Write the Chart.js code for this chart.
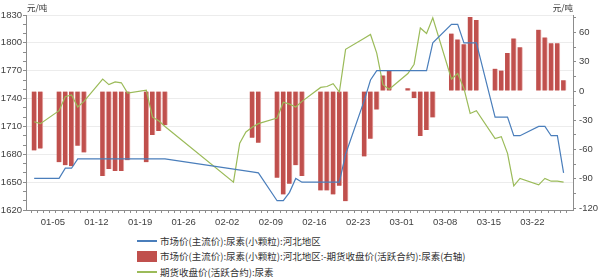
<!DOCTYPE html>
<html>
<head>
<meta charset="utf-8">
<script src="https://cdn.jsdelivr.net/npm/chart.js@4.4.1/dist/chart.umd.min.js"></script>
<style>
  body { margin: 0; background: #fff; }
  #wrap { position: relative; width: 600px; height: 278px; font-family: "Noto Sans CJK SC", "Liberation Sans", sans-serif; color: #333; }
  #chart { position: absolute; left: 0; top: 0; }
  .unit { position: absolute; top: 1px; font-size: 8.5px; line-height: 12px; }
  #legend { position: absolute; left: 137px; top: 233px; font-size: 9.5px; }
  .item { height: 15.5px; display: flex; align-items: center; white-space: nowrap; }
  .swatch { width: 20px; margin-right: 3px; }
</style>
</head>
<body>
<div id="wrap">
  <canvas id="chart" width="600" height="232"></canvas>
  <div class="unit" style="left:27px">元/吨</div>
  <div class="unit" style="right:27px">元/吨</div>
  <div id="legend"></div>
</div>
<script>
// trading days, 2020
const dates = [
    '01-02','01-03','01-06','01-07','01-08','01-09','01-10','01-13','01-14','01-15','01-16','01-17','01-20','01-21','01-22','01-23',
    '02-03','02-04','02-05','02-06','02-07','02-10','02-11','02-12','02-13','02-14','02-17','02-18','02-19','02-20','02-21','02-24','02-25','02-26','02-27','02-28',
    '03-02','03-03','03-04','03-05','03-06','03-09','03-10','03-11','03-12','03-13','03-16','03-17','03-18','03-19','03-20','03-23','03-24','03-25','03-26','03-27'
];

// 市场价 (left axis)
const spotPrice = [
    1654,1654,1654,1665,1665,1675,1675,1675,1675,1675,1675,1675,1675,1675,1675,1675,
    null,null,null,1661,1660,1630,1630,1639,1654,1650,1650,1650,1650,1650,1680,1738,1760,1770,1770,1770,
    1770,1770,1770,1770,1800,1820,1820,1800,1800,1800,1720,1720,1720,1700,1700,1710,1710,1700,1700,1660
];

// 基差 (right axis)
const spread = [
    -61,-59,-73,-76,-77,-56,-63,-87,-80,-82,-82,-71,-73,-45,-41,-35,
    null,null,null,-48,-53,-89,-106,-95,-76,-87,-102,-102,-106,-97,-113,-67,-49,-19,16,21,
    3,-7,-46,-40,-27,59,53,48,76,73,23,21,39,54,45,63,55,49,49,11
];

// 期货收盘价 (left axis)
const futuresClose = [
    1715,1713,1727,1742,1744,1731,1737,1761,1755,1758,1757,1746,1749,1720,1716,1710,
    1650,1692,1704,1709,1713,1719,1736,1734,1731,1737,1752,1753,1756,1747,1793,1805,1809,1789,1755,1750,
    1767,1777,1816,1810,1827,1761,1767,1751,1724,1727,1697,1699,1681,1646,1654,1647,1654,1651,1651,1650
];

const xTickLabels = ['01-05','01-12','01-19','01-26','02-02','02-09','02-16','02-23','03-01','03-08','03-15','03-22'];

const seriesNames = [
    '市场价(主流价):尿素(小颗粒):河北地区',
    '市场价(主流价):尿素(小颗粒):河北地区:-期货收盘价(活跃合约):尿素(右轴)',
    '期货收盘价(活跃合约):尿素'
];

// days since 2020-01-01
function dayIndex(s) {
    const [m, d] = s.split('-').map(Number);
    return (Date.UTC(2020, m - 1, d) - Date.UTC(2020, 0, 1)) / 86400000;
}

const xs = dates.map(dayIndex);
const toPoints = arr => arr.map((v, i) => ({ x: xs[i], y: v }));
const labelAt = {};
xTickLabels.forEach(l => { labelAt[dayIndex(l)] = l; });

const tickFont = { family: 'Liberation Sans', size: 9.5 };
const axisGray = '#8c8c8c';

const chart = new Chart(document.getElementById('chart'), {
    data: {
        datasets: [{
            type: 'line',
            label: seriesNames[0],
            data: toPoints(spotPrice),
            yAxisID: 'y',
            borderColor: '#4a7ebb',
            borderWidth: 1.2,
            pointRadius: 0,
            tension: 0,
            spanGaps: true,
            order: 1
        }, {
            type: 'bar',
            label: seriesNames[1],
            data: toPoints(spread),
            yAxisID: 'y1',
            backgroundColor: '#c0504d',
            borderColor: '#eab0ae',
            borderWidth: { left: 0, right: 1, top: 0, bottom: 0 },
            borderSkipped: false,
            barThickness: 5,
            order: 3
        }, {
            type: 'line',
            label: seriesNames[2],
            data: toPoints(futuresClose),
            yAxisID: 'y',
            borderColor: '#9bbb59',
            borderWidth: 1.2,
            pointRadius: 0,
            tension: 0,
            spanGaps: true,
            order: 2
        }]
    },
    options: {
        responsive: false,
        animation: false,
        devicePixelRatio: 1,
        layout: { padding: { top: 15, left: 0, right: 0, bottom: 0 } },
        plugins: { legend: { display: false }, tooltip: { enabled: false } },
        scales: {
            x: {
                type: 'linear',
                min: 0.2,
                max: 87,
                afterBuildTicks: s => {
                    const t = [];
                    for (let v = 1; v <= 86; v++) t.push({ value: v });
                    s.ticks = t;
                },
                afterFit: s => { s.height = 22; },
                ticks: {
                    autoSkip: false,
                    maxRotation: 0,
                    padding: 4,
                    font: tickFont,
                    color: '#404040',
                    callback: v => labelAt[v] || ''
                },
                grid: { drawOnChartArea: false, tickLength: 3, tickColor: axisGray },
                border: { color: axisGray }
            },
            y: {
                position: 'left',
                min: 1620,
                max: 1830,
                afterBuildTicks: s => {
                    const t = [];
                    for (let v = 1620; v <= 1830; v += 10) t.push({ value: v });
                    s.ticks = t;
                },
                afterFit: s => { s.width = 26; },
                ticks: {
                    autoSkip: false,
                    padding: 1,
                    font: tickFont,
                    color: '#404040',
                    callback: v => (v % 30 === 0 ? String(v) : '')
                },
                grid: {
                    tickLength: 3,
                    tickColor: axisGray,
                    color: c => (c.tick && c.tick.value % 30 === 0 ? '#ececec' : 'rgba(0,0,0,0)')
                },
                border: { color: axisGray }
            },
            y1: {
                position: 'right',
                min: -122,
                max: 78,
                afterBuildTicks: s => {
                    const t = [];
                    for (let v = -120; v <= 75; v += 15) t.push({ value: v });
                    s.ticks = t;
                },
                afterFit: s => { s.width = 27; },
                ticks: {
                    autoSkip: false,
                    padding: 3,
                    font: tickFont,
                    color: '#404040',
                    callback: v => (v % 30 === 0 ? String(v) : '')
                },
                grid: { drawOnChartArea: false, tickLength: 3, tickColor: axisGray },
                border: { color: axisGray }
            }
        }
    }
});

// legend, one row per series
const legend = document.getElementById('legend');
chart.data.datasets.forEach(ds => {
    const row = document.createElement('div');
    row.className = 'item';
    const sw = document.createElement('span');
    sw.className = 'swatch';
    if (ds.type === 'bar') {
        sw.style.height = '11px';
        sw.style.background = ds.backgroundColor;
    } else {
        sw.style.height = '1.5px';
        sw.style.background = ds.borderColor;
    }
    const txt = document.createElement('span');
    txt.textContent = ds.label;
    row.appendChild(sw);
    row.appendChild(txt);
    legend.appendChild(row);
});
</script>
</body>
</html>
